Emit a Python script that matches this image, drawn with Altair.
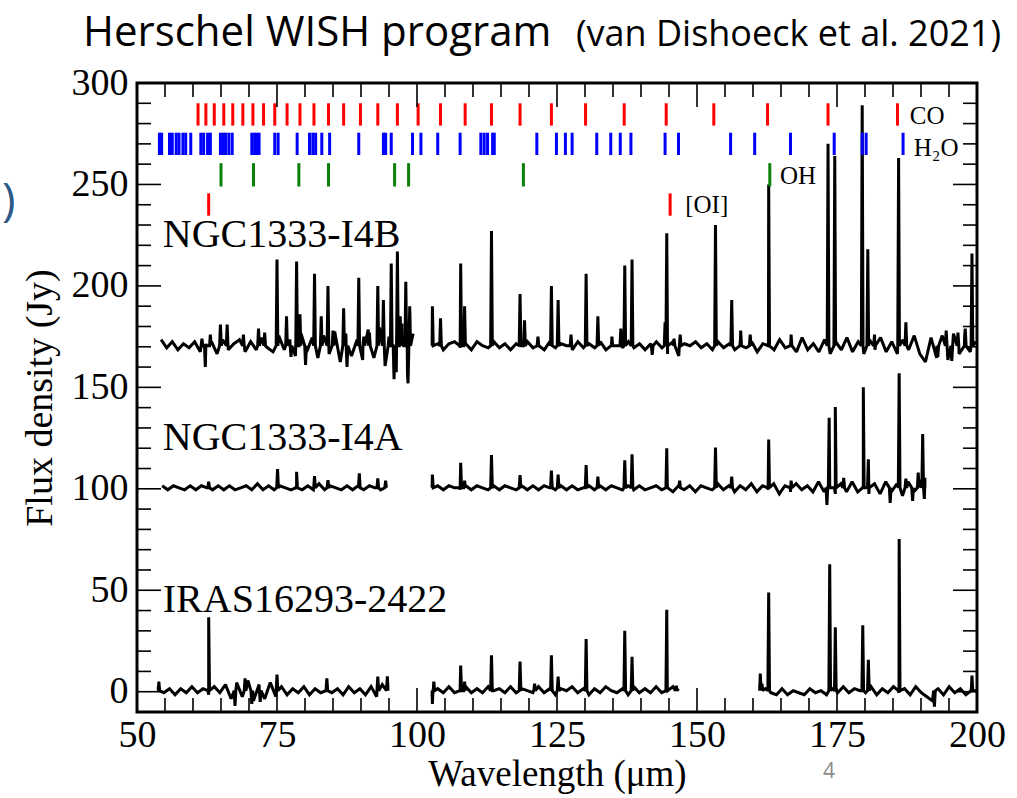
import altair as alt
import pandas as pd
import numpy as np

# ---------------- data ----------------
co_lines = [60.9, 62.3, 63.8, 65.5, 67.1, 68.9, 70.7, 72.6, 74.6, 76.8, 79.1, 81.6, 84.2,
            86.9, 89.9, 93.0, 96.5, 100.2, 104.2, 108.6, 113.3, 118.4, 124.0, 130.1, 137.0,
            144.5, 153.0, 162.6, 173.4, 185.8]
h2o_lines = [54.0, 54.4, 55.8, 56.3, 57.0, 57.5, 58.2, 58.7, 59.6, 61.4, 61.9, 62.6, 63.1,
             64.9, 65.4, 65.8, 66.4, 67.0, 70.5, 71.0, 71.4, 71.8, 74.6, 75.2, 78.6, 80.8,
             81.4, 81.9, 83.0, 84.4, 89.6, 94.0, 94.4, 95.4, 99.2, 100.7, 103.7, 107.7,
             111.4, 112.0, 112.6, 113.5, 113.8, 121.4, 124.9, 126.5, 127.7, 132.1, 134.6,
             136.3, 138.2, 144.3, 146.7, 156.0, 160.3, 166.7, 174.5, 179.5, 180.2, 186.8]
oh_lines = [65.0, 70.8, 78.9, 84.2, 96.0, 98.5, 119.0, 163.0]
oi_lines = [62.8, 145.2]

# NGC1333-I4B
i4b_base = 170.5
i4b_segments = [(54.3, 99.3), (102.7, 199.8)]
i4b_noise_1 = [3, -1, 2, -2, 1, -1, 2, -3, 1, 2, -4, 3, -2, 1, 3, -3, 2, -2, 4, -1, -3, 5, -2,
               3, -5, 6, -3, 4, -6, 5, -4, 7, -8, 6, -5, 3, -7, 8, -6, 9, -10, 12, -13, 11,
               -14, 6]
i4b_noise_2 = [0, 1, -2, 1, 2, -1, 1, -2, 2, 0, -1, 2, -1, 1, -2, 1, 0, 2, -1, 1, -2, 2, -1,
               1, 0, -2, 2, -1, 1, -1, 2, -2, 1, 0, -1, 2, -1, 1, -2, 1, 2, -1, -4, 2, -5, 1,
               0, 2, -1, 1, -2, 2, -1, 1, -2, 3, -1, 2, -3, 1, 2, -2, 3, -1, 2, -3, 4, -2, 1,
               -3, 3, -4, 2, -2, 4, -3, 2, -4, 3, -2, 4, -3, 2, -4, 3, -2, 5, -4, -8, 4, -6,
               5, -7, 6, -4, 5, -3, 2]
i4b_feat_wl = [61.6, 62.2, 63.1, 64.9, 66.1, 69.0, 71.7, 72.8, 75.0, 76.7, 77.5, 78.5, 79.1,
               80.1, 81.7, 82.9, 84.1, 85.0, 86.9, 87.5, 89.6, 90.5, 91.5, 93.0, 94.0, 95.0,
               95.4, 95.9, 96.5, 97.0, 97.5, 98.0, 98.4, 98.7,
               102.75, 104.2, 107.8, 108.5, 113.3, 118.4, 119.2, 121.6, 124.0, 125.2, 127.5,
               130.2, 132.3, 134.8, 136.4, 137.1, 138.4, 142.0, 144.3, 144.6, 145.9, 147.0,
               153.3, 156.2, 157.8, 159.5, 162.8, 166.8, 173.4, 174.6, 179.5, 180.5, 181.7,
               186.0, 187.3, 193.0, 194.5, 195.5, 196.6, 197.9, 199.1]
i4b_feat_flux = [174, 160, 176, 181, 181, 176, 179, 177, 213, 185, 165, 212, 186,
                 161, 206, 185, 200, 178, 189, 160, 204, 175, 177, 200, 193, 175,
                 211, 154, 217, 185, 175, 202, 152, 190,
                 190, 184, 211, 190, 227, 196, 183, 175, 200, 193, 176,
                 206, 185, 175, 179, 210, 213, 166, 182, 226, 174, 176,
                 230, 193, 178, 176, 250, 176, 270, 264, 289, 218, 176,
                 263, 182, 165, 178, 163, 177, 179, 216]

# NGC1333-I4A
i4a_base = 100.5
i4a_segments = [(54.5, 94.5), (102.7, 190.7)]
i4a_noise_1 = [1, -1, 1, 0, -1, 1, -1, 1, 0, -1, 1, -1, 1, -1, 0, 1, -1, 2, -1, 1, -1, 1, 0,
               -1, 1, -1, 1, -1, 2, -1, 1, 0, -1, 1, -1, 1, -1, 1, 0, -1, 1]
i4a_noise_2 = [0, 1, -1, 1, 0, -1, 1, -1, 1, 0, -1, 1, -1, 1, 0, -1, 1, -1, 1, -1, 1, 0, -1,
               1, -1, 1, -1, 0, 1, -1, 1, -1, 1, 0, -1, 1, -1, 1, -1, 0, 1, -1, 1, -2, 1, -1,
               1, -2, 1, 0, -1, 2, -1, 1, -2, 1, -1, 2, -2, 1, -1, 2, -3, 1, -2, 2, -1, 1, -2,
               3, -2, 2, -3, 2, -2, 3, -2, 1, -3, 2, -3, 3, -2, 2, -4, 3, -2, 4, 5]
i4a_feat_wl = [62.8, 75.1, 78.5, 81.7, 84.1, 89.7, 93.0, 94.4,
               102.75, 107.8, 108.5, 113.3, 118.4, 124.0, 125.2, 130.2, 132.3, 137.1, 138.4,
               144.6, 146.9, 153.3, 156.2, 162.8, 166.8, 173.2, 173.6, 174.7, 176.2, 179.7,
               180.6, 184.5, 186.1, 187.3, 188.5, 189.5, 190.3, 190.6]
i4a_feat_flux = [103.5, 109.7, 108.4, 106.3, 104.3, 107.6, 105.1, 104,
                 107, 112.8, 104, 116.6, 106.7, 109, 107, 111.7, 106, 114, 117,
                 120, 104, 120.4, 106, 124.3, 104, 92, 135, 140.3, 105.4, 150,
                 114.5, 93, 157, 105, 94, 108, 127, 95]

# IRAS16293-2422
iras_base = 0.5
iras_segments = [(53.8, 94.8), (102.7, 146.7), (161.2, 200.0)]
iras_noise_1 = [2, -1, 1, -2, 1, -1, 2, -1, 1, -2, 2, -1, 3, -4, 4, -3, 5, -5, 3, -4, 4, -3,
                2, -2, 1, -1, 2, -2, 1, -1, 2, -1, 1, -2, 2, -1, 1, -2, 2, -3, 3, 2]
iras_noise_2 = [-3, 1, -1, 2, -1, 1, 2, -1, 1, -1, 2, 0, 1, -1, 2, -1, 1, 0, -1, 2, -1, 1, -2,
                1, 0, 2, -1, 1, -2, 1, -1, 2, 0, -1, 1, -2, 2, -1, 1, -1, 2, -1, 1, 2, 1]
iras_noise_3 = [3, 1, -1, -2, 1, -2, 0, -1, -2, 1, -1, 0, -2, 1, -1, 2, -1, 1, 0, -1, 2, -2,
                1, -1, 2, -1, 1, -2, 2, -1, -3, -5, 1, -2, 2, -1, 1, -2, 2, 0]
iras_feat_wl = [53.9, 62.8, 67.5, 69.3, 70.5, 72.0, 75.0, 83.9, 93.0, 94.7,
                102.75, 103.0, 107.8, 108.5, 113.3, 118.4, 121.0, 124.0, 125.2, 130.2, 137.1,
                138.4, 144.6, 146.3,
                161.3, 161.6, 162.8, 173.7, 174.7, 179.6, 180.6, 186.1, 192.4, 199.1]
iras_feat_flux = [5, 36.7, -7, 6.6, -6, -5, 8.4, 6.6, 7.5, 7.6,
                  -6, 5, 12.9, 5, 17.9, 14.9, 4, 17.9, 7.5, 26, 30,
                  17.2, 40.4, 3,
                  9, 4, 48.9, 62.8, 31.8, 32.8, 15.7, 75.3, -7.4, 7.9]

source_names = ["NGC1333-I4B", "NGC1333-I4A", "IRAS16293-2422"]
source_label_wl = [54.6, 54.6, 54.6]
source_label_flux = [219.4, 119.0, 39.3]

species_names = ["CO", "H₂O", "OH", "[OI]"]
species_label_wl = [188.0, 188.7, 164.8, 147.9]
species_label_flux = [280.0, 264.2, 250.0, 236.0]

# ---------------- build tables ----------------
def build(name, base, segments, noises, fwl, fflux):
    rows = []
    for si, ((a, b), noise) in enumerate(zip(segments, noises)):
        xs = np.linspace(a, b, len(noise))
        pts = [(float(x), base + n) for x, n in zip(xs, noise)]
        for w, f in zip(fwl, fflux):
            if a <= w <= b:
                pts += [(max(a, w - 0.15), base), (w, f), (min(b, w + 0.15), base)]
        pts.sort(key=lambda p: p[0])
        for k, (x, y) in enumerate(pts):
            rows.append({"wl": x, "flux": y, "key": f"{name}-{si}", "ord": k})
    return rows

spec_rows = []
spec_rows += build("I4B", i4b_base, i4b_segments, [i4b_noise_1, i4b_noise_2], i4b_feat_wl, i4b_feat_flux)
spec_rows += build("I4A", i4a_base, i4a_segments, [i4a_noise_1, i4a_noise_2], i4a_feat_wl, i4a_feat_flux)
spec_rows += build("IRAS", iras_base, iras_segments, [iras_noise_1, iras_noise_2, iras_noise_3],
                   iras_feat_wl, iras_feat_flux)
spec = pd.DataFrame(spec_rows)

marker_rows = []
for wl in co_lines:
    marker_rows.append({"wl": wl, "y1": 279.0, "y2": 290.0, "c": "#FF0000"})
for wl in h2o_lines:
    marker_rows.append({"wl": wl, "y1": 264.5, "y2": 275.5, "c": "#0000FF"})
for wl in oh_lines:
    marker_rows.append({"wl": wl, "y1": 249.0, "y2": 260.5, "c": "#0A800A"})
for wl in oi_lines:
    marker_rows.append({"wl": wl, "y1": 234.6, "y2": 245.6, "c": "#FF0000"})
markers = pd.DataFrame(marker_rows)

src_df = pd.DataFrame({"t": source_names, "wl": source_label_wl, "flux": source_label_flux})
sp_df = pd.DataFrame({"t": species_names, "wl": species_label_wl, "flux": species_label_flux})

W, H = 840, 629
xscale = alt.Scale(domain=[50, 200], nice=False, zero=False)
yscale = alt.Scale(domain=[-10, 300], nice=False, zero=False)
SERIF = "Liberation Serif"

xaxis = alt.Axis(values=list(range(50, 201, 25)), ticks=False, domain=False, grid=False,
                 labelFont=SERIF, labelFontSize=38, labelColor="black", labelPadding=4,
                 labelFlush=False, labelOverlap=False, labelBound=False,
                 title="Wavelength (μm)", titleFont=SERIF, titleFontSize=37,
                 titleFontWeight="normal", titleColor="black", titlePadding=2)
yaxis = alt.Axis(values=list(range(0, 301, 50)), ticks=False, domain=False, grid=False,
                 labelFont=SERIF, labelFontSize=38, labelColor="black", labelPadding=9,
                 labelOverlap=False, labelBound=False,
                 title="Flux density (Jy)", titleFont=SERIF, titleFontSize=38,
                 titleFontWeight="normal", titleColor="black", titlePadding=12)


def X(field):
    return alt.X(field, scale=xscale, axis=xaxis)


def Y(field):
    return alt.Y(field, scale=yscale, axis=yaxis)


spectrum = alt.Chart(spec).mark_line(color="black", strokeWidth=3, strokeJoin="miter",
                                     strokeMiterLimit=2).encode(
    x=X("wl:Q"), y=Y("flux:Q"), detail="key:N", order="ord:Q",
)

marks = alt.Chart(markers).mark_rule(strokeWidth=3).encode(
    x=X("wl:Q"), y=Y("y1:Q"), y2="y2:Q", color=alt.Color("c:N", scale=None),
)

src_text = alt.Chart(src_df).mark_text(font=SERIF, fontSize=40, align="left",
                                       baseline="alphabetic", color="black").encode(
    x=X("wl:Q"), y=Y("flux:Q"), text="t:N",
)
sp_text = alt.Chart(sp_df).mark_text(font=SERIF, fontSize=25, align="left",
                                     baseline="alphabetic", color="black").encode(
    x=X("wl:Q"), y=Y("flux:Q"), text="t:N",
)

# inward ticks
x_major = list(range(50, 201, 25))
x_minor = [v for v in range(50, 201, 5) if v % 25 != 0]
y_major = list(range(0, 301, 50))
y_minor = [v for v in range(-10, 301, 10) if v % 50 != 0]


def xticks(vals, length):
    d = pd.DataFrame({"v": vals})
    bottom = alt.Chart(d).mark_rule(color="black", strokeWidth=1.6).encode(
        x=X("v:Q"), y=alt.value(H), y2=alt.value(H - length))
    top = alt.Chart(d).mark_rule(color="black", strokeWidth=1.6).encode(
        x=X("v:Q"), y=alt.value(0), y2=alt.value(length))
    return [bottom, top]


def yticks(vals, length):
    d = pd.DataFrame({"v": vals})
    left = alt.Chart(d).mark_rule(color="black", strokeWidth=1.6).encode(
        y=Y("v:Q"), x=alt.value(0), x2=alt.value(length))
    right = alt.Chart(d).mark_rule(color="black", strokeWidth=1.6).encode(
        y=Y("v:Q"), x=alt.value(W), x2=alt.value(W - length))
    return [left, right]


tick_layers = xticks(x_major, 24) + xticks(x_minor, 14) + yticks(y_major, 24) + yticks(y_minor, 14)

one = pd.DataFrame({"t": ["x"]})
title1 = alt.Chart(one).mark_text(font="Open Sans", fontSize=42, align="left",
                                  baseline="alphabetic", color="black").encode(
    text=alt.value("Herschel WISH program"), x=alt.value(-54), y=alt.value(-37))
title2 = alt.Chart(one).mark_text(font="Open Sans", fontSize=36, align="right",
                                  baseline="alphabetic", color="black").encode(
    text=alt.value("(van Dishoeck et al. 2021)"), x=alt.value(864), y=alt.value(-37))
paren = alt.Chart(one).mark_text(font="Open Sans", fontSize=46, align="left",
                                 baseline="middle", color="#2E5A8A").encode(
    text=alt.value(")"), x=alt.value(-135), y=alt.value(119))
pagenum = alt.Chart(one).mark_text(font="Open Sans", fontSize=21, align="center",
                                   baseline="middle", color="#8C8C8C").encode(
    text=alt.value("4"), x=alt.value(692), y=alt.value(689))

chart = alt.layer(spectrum, marks, src_text, sp_text, *tick_layers,
                  title1, title2, paren, pagenum).properties(
    width=W, height=H,
    padding={"left": 137, "top": 83, "right": 40, "bottom": 86},
    autosize="none",
    background="white",
).configure_view(stroke="black", strokeWidth=3)

chart.save("out.html", embed_options={"renderer": "svg", "actions": False})
